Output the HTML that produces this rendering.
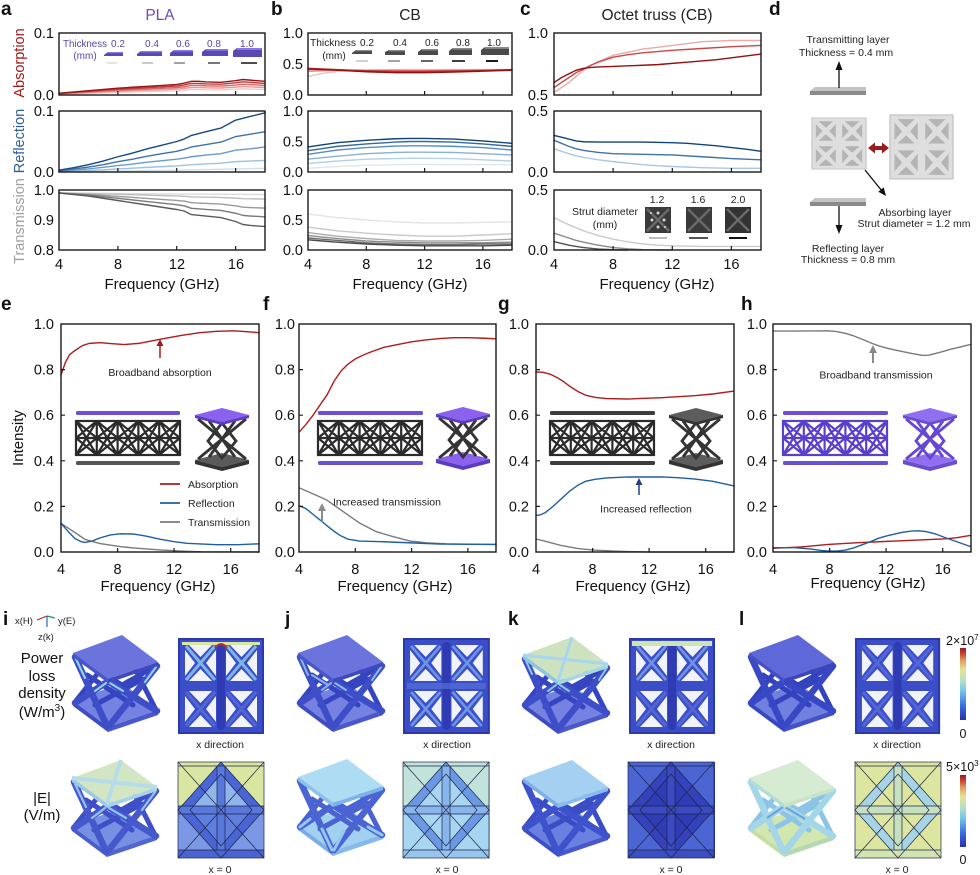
<!DOCTYPE html>
<html><head><meta charset="utf-8"><style>
body{margin:0;background:#fff}
svg{display:block;font-family:"Liberation Sans",Arial,sans-serif}
.ax{fill:none;stroke:#1a1a1a;stroke-width:1.4}
.c{fill:none;vector-effect:non-scaling-stroke;stroke-linejoin:round;stroke-linecap:round;stroke-width:1.4}
.t{font-size:14.5px;fill:#111}
.e{text-anchor:end}
.m{text-anchor:middle}
.L{font-size:19px;font-weight:bold;fill:#111}
.s{font-size:10.5px;fill:#222}
.tk{stroke:#1a1a1a;stroke-width:1.2;fill:none}
</style></head><body>
<svg width="980" height="875" viewBox="0 0 980 875">
<defs>
<linearGradient id="jet" x1="0" y1="1" x2="0" y2="0">
<stop offset="0" stop-color="#2a2eae"/><stop offset=".2" stop-color="#3a6ee0"/><stop offset=".4" stop-color="#72c6ea"/><stop offset=".55" stop-color="#b8e0c4"/><stop offset=".7" stop-color="#e4e492"/><stop offset=".82" stop-color="#e2a262"/><stop offset=".92" stop-color="#c84432"/><stop offset="1" stop-color="#981a1a"/>
</linearGradient>
<g id="lat" fill="none" stroke="currentColor" stroke-width="2.2">
<rect x="0" y="0" width="104" height="34"/>
<path d="M20.8,0V34M41.6,0V34M62.4,0V34M83.2,0V34M0,17H104
M0,0L20.8,34M20.8,0L0,34M20.8,0L41.6,34M41.6,0L20.8,34M41.6,0L62.4,34M62.4,0L41.6,34M62.4,0L83.2,34M83.2,0L62.4,34M83.2,0L104,34M104,0L83.2,34
M0,0L20.8,17M20.8,0L0,17M20.8,0L41.6,17M41.6,0L20.8,17M41.6,0L62.4,17M62.4,0L41.6,17M62.4,0L83.2,17M83.2,0L62.4,17M83.2,0L104,17M104,0L83.2,17
M0,17L20.8,34M20.8,17L0,34M20.8,17L41.6,34M41.6,17L20.8,34M41.6,17L62.4,34M62.4,17L41.6,34M62.4,17L83.2,34M83.2,17L62.4,34M83.2,17L104,34M104,17L83.2,34"/>
</g>
<g id="holes">
<polygon points="10,6 33,6 21.5,18"/><polygon points="10,42 33,42 21.5,30"/><polygon points="6,11 6,37 16,24"/><polygon points="37,11 37,37 27,24"/>
<polygon points="51,6 74,6 62.5,18"/><polygon points="51,42 74,42 62.5,30"/><polygon points="47,11 47,37 57,24"/><polygon points="78,11 78,37 68,24"/>
<polygon points="10,52 33,52 21.5,64"/><polygon points="10,88 33,88 21.5,76"/><polygon points="6,57 6,83 16,70"/><polygon points="37,57 37,83 27,70"/>
<polygon points="51,52 74,52 62.5,64"/><polygon points="51,88 74,88 62.5,76"/><polygon points="47,57 47,83 57,70"/><polygon points="78,57 78,83 68,70"/>
</g>
<g id="xs">
<rect width="84" height="94" fill="#3c4dc8"/>
<path d="M7,7L36,41M36,7L7,41M48,7L77,41M77,7L48,41M7,53L36,87M36,53L7,87M48,53L77,87M77,53L48,87" stroke="#5266d6" stroke-width="3" fill="none"/>
<use href="#holes" fill="#f1f3fb"/>
<rect x="38" y="3" width="8" height="88" rx="4" fill="#2e3bb2"/>
<rect x="0" y="0" width="84" height="94" fill="none" stroke="#2c39ad" stroke-width="2"/>
</g>
<g id="xsgray">
<rect width="84" height="94" fill="#dedede"/>
<use href="#holes" fill="#b4b4b4"/>
<rect x="0" y="0" width="84" height="94" fill="none" stroke="#c8c8c8" stroke-width="2"/>
</g>
<g id="el" fill="none" stroke="#1e2448" stroke-width="0.7">
<rect x="0" y="0" width="86" height="96"/>
<path d="M0,4H86M0,88H86M0,0L86,96M86,0L0,96M43,0L86,48L43,96L0,48ZM43,12L74,48L43,84L12,48ZM39,4V88M47,4V88M0,44H86M0,52H86"/>
</g>
</defs>

<!-- ================= Panel a ================= -->
<text x="1" y="15" class="L">a</text>
<text x="160" y="20" class="m" font-size="15.5" fill="#6a4bc4">PLA</text>
<text transform="translate(24,63) rotate(-90)" class="m" font-size="14.5" fill="#a01c1c">Absorption</text>
<text transform="translate(24,141) rotate(-90)" class="m" font-size="14.5" fill="#2c5d93">Reflection</text>
<text transform="translate(24,221) rotate(-90)" class="m" font-size="14.5" fill="#a0a0a0">Transmission</text>
<g class="t e">
<text x="54" y="38">0.1</text><text x="54" y="100">0.0</text>
<text x="54" y="116">0.1</text><text x="54" y="177">0.0</text>
<text x="54" y="195">1.0</text><text x="54" y="225">0.9</text><text x="54" y="255">0.8</text>
</g>
<g class="t m">
<text x="59" y="269">4</text><text x="118" y="269">8</text><text x="177" y="269">12</text><text x="236" y="269">16</text>
<text x="162" y="289" font-size="15">Frequency (GHz)</text>
</g>
<g transform="translate(59,95) scale(14.714,-620)">
<path class="c" stroke="#f4c6c6" d="M0,0.0012 L1,0.002 2,0.0028 3,0.0036 4,0.0044 5,0.005 6,0.0056 7,0.0062 8,0.0068 8.5,0.0076 9,0.0088 9.5,0.0088 10,0.0084 11,0.0082 12,0.0092 12.5,0.01 13,0.0096 14,0.0088"/>
<path class="c" stroke="#e79a9a" d="M0,0.0017 L1,0.0028 2,0.0039 3,0.005 4,0.006 5,0.0069 6,0.0077 7,0.0085 8,0.0094 8.5,0.0105 9,0.0121 9.5,0.0121 10,0.0116 11,0.0113 12,0.0127 12.5,0.0138 13,0.0132 14,0.0121"/>
<path class="c" stroke="#d46a6a" d="M0,0.0021 L1,0.0035 2,0.0049 3,0.0063 4,0.0077 5,0.0088 6,0.0098 7,0.0109 8,0.0119 8.5,0.0133 9,0.0154 9.5,0.0154 10,0.0147 11,0.0144 12,0.0161 12.5,0.0175 13,0.0168 14,0.0154"/>
<path class="c" stroke="#bb3b3b" d="M0,0.0026 L1,0.0043 2,0.006 3,0.0077 4,0.0094 5,0.0106 6,0.0119 7,0.0132 8,0.0145 8.5,0.0162 9,0.0187 9.5,0.0187 10,0.0179 11,0.0174 12,0.0196 12.5,0.0213 13,0.0204 14,0.0187"/>
<path class="c" stroke="#9c1515" d="M0,0.003 L1,0.005 2,0.007 3,0.009 4,0.011 5,0.0125 6,0.014 7,0.0155 8,0.017 8.5,0.019 9,0.022 9.5,0.022 10,0.021 11,0.0205 12,0.023 12.5,0.025 13,0.024 14,0.022"/>
</g>
<g transform="translate(59,172) scale(14.714,-610)">
<path class="c" stroke="#cfe0ef" d="M0,0.0002 L2,0.0007 4,0.0015 6,0.0023 8,0.003 10,0.004 12,0.005 14,0.006"/>
<path class="c" stroke="#9fc0df" d="M0,0.0006 L1,0.0014 2,0.0024 3,0.0036 4,0.005 5,0.0062 6,0.0076 7,0.0088 8,0.01 9,0.012 10,0.0132 11,0.0144 12,0.017 13,0.018 14,0.019"/>
<path class="c" stroke="#6b9bc8" d="M0,0.0013 L1,0.003 2,0.005 3,0.0076 4,0.0105 5,0.013 6,0.016 7,0.0185 8,0.021 8.5,0.0227 9,0.025 10,0.0277 11,0.03 12,0.0357 12.5,0.037 13,0.038 14,0.041"/>
<path class="c" stroke="#3d72aa" d="M0,0.002 L1,0.005 2,0.008 3,0.012 4,0.017 5,0.021 6,0.026 7,0.03 8,0.034 8.5,0.037 9,0.041 10,0.045 11,0.049 12,0.058 12.5,0.06 13,0.062 14,0.066"/>
<path class="c" stroke="#17497f" d="M0,0.003 L1,0.007 2,0.012 3,0.018 4,0.025 5,0.031 6,0.038 7,0.044 8,0.05 8.5,0.054 9,0.06 10,0.066 11,0.072 12,0.085 12.5,0.088 13,0.091 14,0.097"/>
</g>
<g transform="translate(59,250) scale(14.714,-300)">
<path class="c" stroke="#dcdcdc" d="M0,0.19 L7,0.187 14,0.185"/>
<path class="c" stroke="#bdbdbd" d="M0,0.19 L2,0.1882 4,0.1855 6,0.1828 8,0.1801 8.5,0.1792 9,0.177 10,0.1761 11,0.1752 12,0.1729 12.5,0.1711 13,0.1706 14,0.1698"/>
<path class="c" stroke="#9a9a9a" d="M0,0.19 L2,0.1855 4,0.1787 6,0.172 8,0.1652 8.5,0.163 9,0.1576 10,0.1553 11,0.1531 12,0.1472 12.5,0.1427 13,0.1414 14,0.1396"/>
<path class="c" stroke="#7a7a7a" d="M0,0.19 L2,0.1829 4,0.1722 6,0.1616 8,0.151 8.5,0.1474 9,0.1389 10,0.1353 11,0.1318 12,0.1225 12.5,0.1154 13,0.1133 14,0.1105"/>
<path class="c" stroke="#5a5a5a" d="M0,0.19 L2,0.18 4,0.165 6,0.15 8,0.135 8.5,0.13 9,0.118 10,0.113 11,0.108 12,0.095 12.5,0.085 13,0.082 14,0.078"/>
</g>
<rect x="59" y="33" width="206" height="62" class="ax"/>
<rect x="59" y="111" width="206" height="61" class="ax"/>
<rect x="59" y="190" width="206" height="60" class="ax"/>
<path class="tk" d="M117.9,95v-4M176.7,95v-4M235.6,95v-4M117.9,172v-4M176.7,172v-4M235.6,172v-4M117.9,250v-4M176.7,250v-4M235.6,250v-4"/>
<g font-size="10" fill="#5847a6">
<text x="63" y="47" textLength="44" lengthAdjust="spacingAndGlyphs">Thickness</text><text x="85" y="59" class="m">(mm)</text>
<text x="118" y="47" class="m">0.2</text><text x="152" y="47" class="m">0.4</text><text x="183" y="47" class="m">0.6</text><text x="214" y="47" class="m">0.8</text><text x="247" y="47" class="m">1.0</text>
</g>
<g fill="#5a48b4">
<polygon points="104,55 108,52 123,52 123,56 104,56"/>
<polygon points="137,54 141,51 162,51 162,56 137,56"/>
<polygon points="170,53 174,50 193,50 193,56 170,56"/>
<polygon points="202,52 206,49 228,49 228,56 202,56"/>
<polygon points="233,51 237,48 262,48 262,57 233,57"/>
</g>
<g fill="#8a78e0"><rect x="108" y="52" width="15" height="1.2"/><rect x="141" y="51" width="21" height="1.4"/><rect x="174" y="50" width="19" height="1.6"/><rect x="206" y="49" width="22" height="1.8"/><rect x="237" y="48" width="25" height="2"/></g>
<g stroke-width="1.6">
<path d="M107,63H117" stroke="#dedede"/><path d="M142,63H153" stroke="#bdbdbd"/><path d="M174,63H185" stroke="#8a8a8a"/><path d="M208,63H220" stroke="#555"/><path d="M241,63H257" stroke="#222"/>
</g>

<!-- ================= Panel b ================= -->
<text x="271" y="15" class="L">b</text>
<text x="410" y="20" class="m" font-size="15.5" fill="#222">CB</text>
<g class="t e">
<text x="303" y="38">1.0</text><text x="303" y="69">0.5</text><text x="303" y="100">0.0</text>
<text x="303" y="116">1.0</text><text x="303" y="146.5">0.5</text><text x="303" y="177">0.0</text>
<text x="303" y="195">1.0</text><text x="303" y="225">0.5</text><text x="303" y="255">0.0</text>
</g>
<g class="t m">
<text x="308" y="269">4</text><text x="366.3" y="269">8</text><text x="424.6" y="269">12</text><text x="482.9" y="269">16</text>
<text x="410" y="289" font-size="15">Frequency (GHz)</text>
</g>
<g transform="translate(308,95) scale(14.571,-62)">
<path class="c" stroke="#f2c0c0" d="M0,0.3 L1,0.35 2,0.38 3,0.395 4,0.4 6,0.41 8,0.41 10,0.41 12,0.41 14,0.41"/>
<path class="c" stroke="#e49494" d="M0,0.38 L1,0.39 2,0.4 4,0.4 6,0.4 8,0.395 10,0.395 12,0.4 14,0.4"/>
<path class="c" stroke="#d06060" d="M0,0.41 L2,0.405 4,0.395 6,0.39 8,0.39 10,0.395 12,0.4 14,0.405"/>
<path class="c" stroke="#b83434" d="M0,0.43 L2,0.41 4,0.39 6,0.375 8,0.375 10,0.385 12,0.395 14,0.41"/>
<path class="c" stroke="#961010" d="M0,0.42 L2,0.4 4,0.375 6,0.36 8,0.36 10,0.37 12,0.385 14,0.4"/>
</g>
<g transform="translate(308,172) scale(14.571,-61)">
<path class="c" stroke="#dde8f2" d="M0,0.06 L2,0.09 4,0.11 6,0.12 7,0.125 8,0.125 10,0.12 12,0.12 14,0.12"/>
<path class="c" stroke="#b4cfe6" d="M0,0.14 L1,0.16 2,0.18 4,0.21 6,0.22 7,0.225 8,0.225 10,0.22 12,0.2 14,0.18"/>
<path class="c" stroke="#8ab0d6" d="M0,0.21 L1,0.235 2,0.26 4,0.3 6,0.32 7,0.325 8,0.325 10,0.32 12,0.3 14,0.28"/>
<path class="c" stroke="#5a8cc0" d="M0,0.29 L1,0.325 2,0.36 4,0.4 6,0.425 7,0.43 8,0.43 10,0.42 12,0.4 14,0.36"/>
<path class="c" stroke="#336aa4" d="M0,0.35 L1,0.385 2,0.42 4,0.46 6,0.49 7,0.5 8,0.5 10,0.49 12,0.46 14,0.42"/>
<path class="c" stroke="#124479" d="M0,0.41 L1,0.445 2,0.48 4,0.52 6,0.545 7,0.55 8,0.55 10,0.54 12,0.51 14,0.47"/>
</g>
<g transform="translate(308,250) scale(14.571,-60)">
<path class="c" stroke="#e4e4e4" d="M0,0.6 L1,0.57 2,0.54 4,0.5 6,0.47 8,0.45 10,0.45 12,0.46 14,0.47"/>
<path class="c" stroke="#cacaca" d="M0,0.38 L1,0.35 2,0.32 4,0.28 6,0.25 8,0.23 10,0.23 12,0.25 14,0.27"/>
<path class="c" stroke="#ababab" d="M0,0.29 L1,0.26 2,0.23 4,0.19 6,0.16 8,0.15 10,0.15 12,0.16 14,0.18"/>
<path class="c" stroke="#8c8c8c" d="M0,0.24 L1,0.215 2,0.19 4,0.15 6,0.13 8,0.12 10,0.12 12,0.12 14,0.13"/>
<path class="c" stroke="#6c6c6c" d="M0,0.2 L1,0.18 2,0.16 4,0.12 6,0.1 8,0.09 10,0.09 12,0.1 14,0.1"/>
<path class="c" stroke="#4a4a4a" d="M0,0.17 L1,0.15 2,0.13 4,0.1 6,0.08 8,0.07 10,0.07 12,0.07 14,0.08"/>
</g>
<rect x="308" y="33" width="204" height="62" class="ax"/>
<rect x="308" y="111" width="204" height="61" class="ax"/>
<rect x="308" y="190" width="204" height="60" class="ax"/>
<path class="tk" d="M366.3,95v-4M424.6,95v-4M482.9,95v-4M366.3,172v-4M424.6,172v-4M482.9,172v-4M366.3,250v-4M424.6,250v-4M482.9,250v-4"/>
<g font-size="10" fill="#222">
<text x="310" y="46" textLength="46" lengthAdjust="spacingAndGlyphs">Thickness</text><text x="334" y="59" class="m">(mm)</text>
<text x="367" y="46" class="m">0.2</text><text x="400" y="46" class="m">0.4</text><text x="432" y="46" class="m">0.6</text><text x="463" y="46" class="m">0.8</text><text x="494" y="46" class="m">1.0</text>
</g>
<g fill="#4a4a4a">
<polygon points="352,53 356,50 372,50 372,54 352,54"/>
<polygon points="385,52 389,50 405,50 405,55 385,55"/>
<polygon points="418,52 422,49 438,49 438,55 418,55"/>
<polygon points="449,51 453,48 472,48 472,55 449,55"/>
<polygon points="481,50 485,47 509,47 509,55 481,55"/>
</g>
<g fill="#8a8a8a"><rect x="356" y="50" width="16" height="1.2"/><rect x="389" y="50" width="16" height="1.3"/><rect x="422" y="49" width="16" height="1.5"/><rect x="453" y="48" width="19" height="1.7"/><rect x="485" y="47" width="24" height="1.9"/></g>
<g stroke-width="1.8">
<path d="M356,61H368" stroke="#cccccc"/><path d="M388,61H400" stroke="#999"/><path d="M421,61H433" stroke="#555"/><path d="M452,61H465" stroke="#2a2a2a"/><path d="M486,61H498" stroke="#000"/>
</g>

<!-- ================= Panel c ================= -->
<text x="520" y="15" class="L">c</text>
<text x="657" y="20" class="m" font-size="15.5" fill="#222">Octet truss (CB)</text>
<g class="t e">
<text x="548" y="38">1.0</text><text x="548" y="100">0.5</text>
<text x="548" y="116">0.5</text><text x="548" y="177">0.0</text>
<text x="548" y="195">0.5</text><text x="548" y="255">0.0</text>
</g>
<g class="t m">
<text x="554" y="269">4</text><text x="613.1" y="269">8</text><text x="672.3" y="269">12</text><text x="731.4" y="269">16</text>
<text x="657" y="289" font-size="15">Frequency (GHz)</text>
</g>
<g transform="translate(554,95) scale(14.786,-124)">
<path class="c" stroke="#eba9a9" d="M0,0.02 L0.5,0.06 1,0.1 1.5,0.15 2,0.2 2.5,0.24 3,0.27 3.5,0.295 4,0.32 5,0.345 6,0.37 7,0.385 8,0.4 9,0.415 10,0.43 11,0.435 12,0.44 13,0.44 14,0.44"/>
<path class="c" stroke="#c84848" d="M0,0.06 L0.5,0.1 1,0.14 1.5,0.18 2,0.21 2.5,0.24 3,0.265 3.5,0.285 4,0.305 5,0.325 6,0.34 7,0.35 8,0.36 10,0.375 12,0.39 14,0.4"/>
<path class="c" stroke="#961010" d="M0,0.1 L0.5,0.14 1,0.17 1.5,0.2 2,0.215 2.5,0.222 3,0.226 4,0.23 5,0.235 6,0.24 7,0.245 8,0.255 9,0.265 10,0.275 11,0.285 12,0.3 13,0.315 14,0.33"/>
</g>
<g transform="translate(554,172) scale(14.786,-122)">
<path class="c" stroke="#a9c7e2" d="M0,0.19 L0.5,0.17 1,0.15 1.5,0.133 2,0.12 3,0.1 4,0.085 5,0.072 6,0.06 7,0.052 8,0.045 10,0.035 12,0.03 14,0.03"/>
<path class="c" stroke="#3d72aa" d="M0,0.26 L0.5,0.235 1,0.21 1.5,0.19 2,0.177 3,0.16 4,0.15 6,0.145 8,0.14 10,0.125 12,0.11 14,0.1"/>
<path class="c" stroke="#124479" d="M0,0.3 L0.5,0.285 1,0.27 1.5,0.255 2,0.248 3,0.245 4,0.245 6,0.245 8,0.24 9,0.235 10,0.225 11,0.215 12,0.2 13,0.187 14,0.17"/>
</g>
<g transform="translate(554,250) scale(14.786,-120)">
<path class="c" stroke="#cbcbcb" d="M0,0.27 L0.5,0.24 1,0.21 1.5,0.185 2,0.16 3,0.12 4,0.09 5,0.068 6,0.05 7,0.04 8,0.035 10,0.03 14,0.03"/>
<path class="c" stroke="#8a8a8a" d="M0,0.14 L0.5,0.12 1,0.1 1.5,0.08 2,0.065 3,0.04 4,0.02 5,0.01 6,0.004 7,0.001 8,0"/>
<path class="c" stroke="#505050" d="M0,0.07 L0.5,0.055 1,0.04 1.5,0.03 2,0.02 3,0.008 4,0.002 5,0"/>
</g>
<rect x="554" y="33" width="207" height="62" class="ax"/>
<rect x="554" y="111" width="207" height="61" class="ax"/>
<rect x="554" y="190" width="207" height="60" class="ax"/>
<path class="tk" d="M613.1,95v-4M672.3,95v-4M731.4,95v-4M613.1,172v-4M672.3,172v-4M731.4,172v-4M613.1,250v-4M672.3,250v-4M731.4,250v-4"/>
<g font-size="10.5" fill="#222" class="m">
<text x="605" y="215">Strut diameter</text><text x="605" y="228">(mm)</text>
<text x="657" y="203">1.2</text><text x="698" y="203">1.6</text><text x="738" y="203">2.0</text>
</g>
<rect x="645" y="207" width="26" height="26" fill="#3a3a3a"/>
<rect x="686" y="207" width="26" height="26" fill="#3a3a3a"/>
<rect x="725" y="207" width="26" height="26" fill="#333"/>
<path d="M647,209L669,231M669,209L647,231M688,209L710,231M710,209L688,231M727,209L749,231M749,209L727,231" stroke="#6a6a6a" stroke-width="2.5"/>
<g fill="#d8d8d8"><circle cx="652" cy="220" r="1.5"/><circle cx="664" cy="220" r="1.5"/><circle cx="658" cy="213" r="1.5"/><circle cx="658" cy="227" r="1.5"/><circle cx="651" cy="213" r="1"/><circle cx="665" cy="227" r="1"/></g>
<g stroke-width="2">
<path d="M649,238H667" stroke="#bbb"/><path d="M689,238H708" stroke="#555"/><path d="M729,238H747" stroke="#111"/>
</g>

<!-- ================= Panel d ================= -->
<text x="769" y="15" class="L">d</text>
<g class="s m">
<text x="848" y="43">Transmitting layer</text><text x="846" y="56">Thickness = 0.4 mm</text>
<text x="915" y="216">Absorbing layer</text><text x="914" y="227">Strut diameter = 1.2 mm</text>
<text x="848" y="252">Reflecting layer</text><text x="848" y="263">Thickness = 0.8 mm</text>
</g>
<polygon points="815,87 866,87 866,91 810,91" fill="#c4c4c4"/>
<rect x="810" y="91" width="56" height="4" fill="#8a8a8a"/>
<polygon points="815,198 866,198 866,202 810,202" fill="#c4c4c4"/>
<rect x="810" y="202" width="56" height="4" fill="#8a8a8a"/>
<path d="M839,88V68M839,206V227M865,170L882,191" stroke="#111" stroke-width="1.3"/>
<polygon points="835.5,70 839,61 842.5,70" fill="#111"/>
<polygon points="835.5,225 839,234 842.5,225" fill="#111"/>
<polygon points="878.3,191.8 886,196 883.7,187.4" fill="#111"/>
<g transform="translate(812,118) scale(0.643,0.543)"><use href="#xsgray"/></g>
<g transform="translate(890,115) scale(0.75,0.68)"><use href="#xsgray"/></g>
<polygon points="868,148 875,142.5 875,146 882,146 882,142.5 889,148 882,153.5 882,150 875,150 875,153.5" fill="#9b1c1c"/>

<!-- ================= Panel e ================= -->
<text x="1" y="310" class="L">e</text>
<text transform="translate(23,438) rotate(-90)" class="m" font-size="15" fill="#111">Intensity</text>
<g class="t e">
<text x="54" y="329">1.0</text><text x="54" y="374.6">0.8</text><text x="54" y="420.2">0.6</text><text x="54" y="465.8">0.4</text><text x="54" y="511.4">0.2</text><text x="54" y="557">0.0</text>
</g>
<g class="t m">
<text x="61" y="574">4</text><text x="117.6" y="574">8</text><text x="174.1" y="574">12</text><text x="230.7" y="574">16</text>
<text x="158" y="591" font-size="15">Frequency (GHz)</text>
</g>
<rect x="76" y="411" width="104" height="4" rx="1.5" fill="#6b4fd6"/>
<use href="#lat" x="76" y="421" color="#2b2b2b"/>
<rect x="76" y="461" width="104" height="4" rx="1.5" fill="#555"/>
<g transform="translate(195,408)">
<polygon points="0,52 27,45 54,52 27,59" fill="#5a5a5a"/><polygon points="0,52 27,59 54,52 54,56 27,63 0,56" fill="#333"/>
<path d="M3,11L51,51M51,11L3,51M27,15L13,33L27,50L41,33ZM14,13L40,49M40,13L14,49" stroke="#343434" stroke-width="2.8" fill="none"/>
<polygon points="0,7 27,0 54,7 27,14" fill="#8a62ee"/><polygon points="0,7 27,14 54,7 54,10 27,17 0,10" fill="#5a3cc0"/>
</g>
<g transform="translate(61,552) scale(14.143,-228)">
<path class="c" stroke="#7a7a7a" d="M0,0.126 L0.5,0.105 1,0.085 1.7,0.055 2.76,0.037 4.17,0.024 5.1,0.018 7,0.009 8.9,0.003 10,0.001 14,0"/>
<path class="c" stroke="#1f5fa0" d="M0,0.126 L0.5,0.09 1,0.058 1.4,0.046 1.7,0.042 2.2,0.048 2.76,0.062 3.5,0.075 4.17,0.08 5.1,0.079 6,0.07 7,0.056 8,0.045 8.9,0.038 11,0.032 12.5,0.032 14,0.036"/>
<path class="c" stroke="#b01c1c" d="M0,0.776 L0.3,0.83 0.6,0.865 0.9,0.88 1.5,0.905 2,0.915 2.8,0.918 3.5,0.914 4.5,0.91 5.5,0.915 7,0.933 8.5,0.95 9.8,0.962 11,0.968 12.2,0.97 13,0.967 14,0.962"/>
</g>
<path d="M160,358V344" stroke="#a01c1c" stroke-width="1.5"/><polygon points="156.5,346 160,339 163.5,346" fill="#a01c1c"/>
<text x="160" y="376" class="s m">Broadband absorption</text>
<path d="M160,484H180" stroke="#b01c1c" stroke-width="1.8"/><path d="M160,503H180" stroke="#1f5fa0" stroke-width="1.8"/><path d="M160,522H180" stroke="#7a7a7a" stroke-width="1.8"/>
<g font-size="10.5" fill="#222"><text x="188" y="488">Absorption</text><text x="188" y="507">Reflection</text><text x="188" y="526">Transmission</text></g>
<rect x="61" y="324" width="198" height="228" class="ax"/>
<path class="tk" d="M117.6,552v-4M174.1,552v-4M230.7,552v-4M61,506.4h4M61,460.8h4M61,415.2h4M61,369.6h4"/>

<!-- ================= Panel f ================= -->
<text x="263" y="310" class="L">f</text>
<g class="t e">
<text x="295" y="329">1.0</text><text x="295" y="374.6">0.8</text><text x="295" y="420.2">0.6</text><text x="295" y="465.8">0.4</text><text x="295" y="511.4">0.2</text><text x="295" y="557">0.0</text>
</g>
<g class="t m">
<text x="299" y="574">4</text><text x="355.3" y="574">8</text><text x="411.6" y="574">12</text><text x="467.9" y="574">16</text>
<text x="395" y="591" font-size="15">Frequency (GHz)</text>
</g>
<rect x="318" y="411" width="105" height="4" rx="1.5" fill="#6b4fd6"/>
<use href="#lat" x="318" y="421" color="#2b2b2b"/>
<rect x="318" y="461" width="105" height="4" rx="1.5" fill="#6b4fd6"/>
<g transform="translate(436,407)">
<polygon points="0,52 27,45 54,52 27,59" fill="#8a62ee"/><polygon points="0,52 27,59 54,52 54,56 27,63 0,56" fill="#5a3cc0"/>
<path d="M3,11L51,51M51,11L3,51M27,15L13,33L27,50L41,33ZM14,13L40,49M40,13L14,49" stroke="#343434" stroke-width="2.8" fill="none"/>
<polygon points="0,7 27,0 54,7 27,14" fill="#8a62ee"/><polygon points="0,7 27,14 54,7 54,10 27,17 0,10" fill="#5a3cc0"/>
</g>
<g transform="translate(299,552) scale(14.071,-228)">
<path class="c" stroke="#7a7a7a" d="M0,0.282 L1,0.255 1.97,0.228 3.15,0.177 4.33,0.126 5.5,0.089 6.7,0.067 7.9,0.048 9.08,0.04 10.5,0.036 12,0.034 14,0.033"/>
<path class="c" stroke="#1f5fa0" d="M0,0.203 L0.5,0.19 1,0.165 1.5,0.14 2,0.115 2.5,0.09 3,0.07 3.5,0.056 4.3,0.048 6,0.045 8,0.04 10,0.035 14,0.033"/>
<path class="c" stroke="#b01c1c" d="M0,0.525 L0.5,0.56 1,0.6 1.5,0.645 2,0.69 2.5,0.75 3,0.795 3.5,0.825 4,0.847 4.5,0.862 5,0.875 6,0.897 7,0.91 8,0.922 9,0.93 10,0.936 11,0.94 12,0.94 13,0.938 14,0.935"/>
</g>
<path d="M322,522V509" stroke="#8a8a8a" stroke-width="2"/><polygon points="318,511 322,503 326,511" fill="#8a8a8a"/>
<text x="387" y="505.5" class="s m">Increased transmission</text>
<rect x="299" y="324" width="197" height="228" class="ax"/>
<path class="tk" d="M355.3,552v-4M411.6,552v-4M467.9,552v-4M299,506.4h4M299,460.8h4M299,415.2h4M299,369.6h4"/>

<!-- ================= Panel g ================= -->
<text x="498" y="310" class="L">g</text>
<g class="t e">
<text x="529" y="329">1.0</text><text x="529" y="374.6">0.8</text><text x="529" y="420.2">0.6</text><text x="529" y="465.8">0.4</text><text x="529" y="511.4">0.2</text><text x="529" y="557">0.0</text>
</g>
<g class="t m">
<text x="536" y="574">4</text><text x="592.6" y="574">8</text><text x="649.1" y="574">12</text><text x="705.7" y="574">16</text>
<text x="633" y="591" font-size="15">Frequency (GHz)</text>
</g>
<rect x="550" y="411" width="105" height="4" rx="1.5" fill="#3c3c3c"/>
<use href="#lat" x="550" y="421" color="#2b2b2b"/>
<rect x="550" y="461" width="105" height="4" rx="1.5" fill="#3c3c3c"/>
<g transform="translate(669,408)">
<polygon points="0,52 27,45 54,52 27,59" fill="#5c5c5c"/><polygon points="0,52 27,59 54,52 54,56 27,63 0,56" fill="#333"/>
<path d="M3,11L51,51M51,11L3,51M27,15L13,33L27,50L41,33ZM14,13L40,49M40,13L14,49" stroke="#343434" stroke-width="2.8" fill="none"/>
<polygon points="0,7 27,0 54,7 27,14" fill="#5c5c5c"/><polygon points="0,7 27,14 54,7 54,10 27,17 0,10" fill="#333"/>
</g>
<g transform="translate(536,552) scale(14.143,-228)">
<path class="c" stroke="#7a7a7a" d="M0,0.057 L0.6,0.048 1.2,0.038 1.82,0.028 2.99,0.015 4.17,0.008 5.5,0.004 6.5,0.002 8,0 14,0"/>
<path class="c" stroke="#1f5fa0" d="M0,0.16 L0.3,0.163 0.64,0.172 1.2,0.2 1.82,0.235 2.4,0.268 2.99,0.294 3.5,0.31 4.17,0.319 5,0.325 6.5,0.329 8.9,0.329 10,0.326 11.25,0.32 12.5,0.31 14,0.29"/>
<path class="c" stroke="#b01c1c" d="M0,0.79 L0.5,0.788 1,0.78 1.5,0.765 2,0.745 2.5,0.722 3,0.703 3.5,0.688 4.2,0.678 5,0.673 6.5,0.671 8.9,0.677 11.3,0.686 12.5,0.693 14,0.706"/>
</g>
<path d="M639,495V483" stroke="#283c8c" stroke-width="1.5"/><polygon points="635.5,485 639,478 642.5,485" fill="#283c8c"/>
<text x="646" y="512.5" class="s m">Increased reflection</text>
<rect x="536" y="324" width="198" height="228" class="ax"/>
<path class="tk" d="M592.6,552v-4M649.1,552v-4M705.7,552v-4M536,506.4h4M536,460.8h4M536,415.2h4M536,369.6h4"/>

<!-- ================= Panel h ================= -->
<text x="741" y="310" class="L">h</text>
<g class="t e">
<text x="767" y="329">1.0</text><text x="767" y="374.6">0.8</text><text x="767" y="420.2">0.6</text><text x="767" y="465.8">0.4</text><text x="767" y="511.4">0.2</text><text x="767" y="557">0.0</text>
</g>
<g class="t m">
<text x="773" y="574">4</text><text x="829.6" y="574">8</text><text x="886.1" y="574">12</text><text x="942.7" y="574">16</text>
<text x="868" y="588" font-size="15">Frequency (GHz)</text>
</g>
<rect x="783" y="411" width="105" height="4" rx="1.5" fill="#6b4fd6"/>
<use href="#lat" x="783" y="421" color="#5a3fcc"/>
<rect x="783" y="461" width="105" height="4" rx="1.5" fill="#6b4fd6"/>
<g transform="translate(903,408)">
<polygon points="0,52 27,45 54,52 27,59" fill="#9070f0"/><polygon points="0,52 27,59 54,52 54,56 27,63 0,56" fill="#6a4cd0"/>
<path d="M3,11L51,51M51,11L3,51M27,15L13,33L27,50L41,33ZM14,13L40,49M40,13L14,49" stroke="#6448d4" stroke-width="2.8" fill="none"/>
<polygon points="0,7 27,0 54,7 27,14" fill="#9070f0"/><polygon points="0,7 27,14 54,7 54,10 27,17 0,10" fill="#6a4cd0"/>
</g>
<g transform="translate(773,552) scale(14.143,-228)">
<path class="c" stroke="#b01c1c" d="M0,0.016 L2,0.022 3.9,0.033 6,0.041 8.6,0.048 10,0.052 12.2,0.058 13,0.063 14,0.073"/>
<path class="c" stroke="#1f5fa0" d="M0,0.019 L1.53,0.019 2.71,0.013 3.5,0.006 3.9,0.004 4.5,0.004 5.09,0.008 5.7,0.018 6.27,0.031 7,0.048 7.45,0.06 8,0.07 8.63,0.079 9.2,0.087 9.8,0.092 10.3,0.093 10.76,0.09 11.5,0.079 12.17,0.063 13,0.045 14,0.023"/>
<path class="c" stroke="#7a7a7a" d="M0,0.969 L1.5,0.969 3.9,0.97 4.5,0.967 5.1,0.959 5.7,0.948 6.3,0.933 7,0.915 7.45,0.905 8,0.895 8.6,0.886 9.8,0.871 10.6,0.862 11,0.863 11.5,0.871 12,0.879 12.6,0.89 13.3,0.9 14,0.911"/>
</g>
<path d="M873,363V351" stroke="#8a8a8a" stroke-width="2"/><polygon points="869,353 873,345 877,353" fill="#8a8a8a"/>
<text x="876" y="378.5" class="s m">Broadband transmission</text>
<rect x="773" y="324" width="198" height="228" class="ax"/>
<path class="tk" d="M829.6,552v-4M886.1,552v-4M942.7,552v-4M773,506.4h4M773,460.8h4M773,415.2h4M773,369.6h4"/>

<!-- ================= Bottom i-l ================= -->
<text x="3" y="625" class="L">i</text>
<text x="285" y="625" class="L">j</text>
<text x="508" y="625" class="L">k</text>
<text x="739" y="625" class="L">l</text>
<g font-size="9.5" fill="#222"><text x="15" y="624">x(H)</text><text x="58" y="624">y(E)</text><text x="38" y="640">z(k)</text></g>
<path d="M47,616L37,620" stroke="#c02020" stroke-width="1.2"/><path d="M47,616L55,618" stroke="#209080" stroke-width="1.2"/><path d="M47,616V627" stroke="#3060c0" stroke-width="1.2"/>
<g font-size="15" fill="#111" class="m">
<text x="42" y="663">Power</text><text x="42" y="681">loss</text><text x="42" y="698">density</text><text x="42" y="717">(W/m<tspan font-size="10" dy="-6">3</tspan><tspan dy="6">)</tspan></text>
<text x="42" y="803">|E|</text><text x="42" y="820">(V/m)</text>
</g>
<g class="s m">
<text x="220" y="748">x direction</text><text x="447" y="748">x direction</text><text x="671" y="748">x direction</text><text x="897" y="748">x direction</text>
<text x="220" y="873">x = 0</text><text x="447" y="873">x = 0</text><text x="671" y="873">x = 0</text><text x="897" y="873">x = 0</text>
</g>

<g transform="translate(73,635)">
<polygon points="0,66 49,48 85,75 35,92" fill="#7682e2"/><polygon points="0,66 35,92 35,97 0,71" fill="#3e4cc4"/><polygon points="35,92 85,75 85,80 35,97" fill="#4a58cc"/>
<path d="M49,8L2,67M49,8L83,75M2,22L49,50M83,31L49,50M14,40L60,70M70,44L22,70" stroke="#3545c0" stroke-width="5" stroke-linecap="round" fill="none"/>
<path d="M2,22L34,91M34,47L2,68M36,47L84,76M84,31L36,91" stroke="#3d4ec8" stroke-width="6.5" stroke-linecap="round" fill="none"/>
<path d="M3,24L12,43M33,48L22,56M37,48L50,56M83,32L72,47M49,9L40,21M49,9L60,22" stroke="#8fd2e6" stroke-width="2.2" stroke-linecap="round" fill="none"/>
<polygon points="0,18 49,0 85,27 35,44" fill="#6a74dc"/><polygon points="0,18 35,44 35,48 0,22" fill="#4a56c8"/><polygon points="35,44 85,27 85,31 35,48" fill="#3e4abf"/>
</g>
<g transform="translate(298,635)">
<polygon points="0,66 49,48 85,75 35,92" fill="#7682e2"/><polygon points="0,66 35,92 35,97 0,71" fill="#3e4cc4"/><polygon points="35,92 85,75 85,80 35,97" fill="#4a58cc"/>
<path d="M49,8L2,67M49,8L83,75M2,22L49,50M83,31L49,50M14,40L60,70M70,44L22,70" stroke="#3545c0" stroke-width="5" stroke-linecap="round" fill="none"/>
<path d="M2,22L34,91M34,47L2,68M36,47L84,76M84,31L36,91" stroke="#3d4ec8" stroke-width="6.5" stroke-linecap="round" fill="none"/>
<path d="M3,24L10,40M33,48L24,55M37,48L48,55M83,32L74,45M14,40L30,50" stroke="#8ab8ec" stroke-width="2" stroke-linecap="round" fill="none"/>
<polygon points="0,18 49,0 85,27 35,44" fill="#6a74dc"/><polygon points="0,18 35,44 35,48 0,22" fill="#4a56c8"/><polygon points="35,44 85,27 85,31 35,48" fill="#3e4abf"/>
</g>
<g transform="translate(523,637)">
<polygon points="0,66 49,48 85,75 35,92" fill="#7682e2"/><polygon points="0,66 35,92 35,97 0,71" fill="#3e4cc4"/><polygon points="35,92 85,75 85,80 35,97" fill="#4a58cc"/>
<path d="M49,8L2,67M49,8L83,75M2,22L49,50M83,31L49,50M14,40L60,70M70,44L22,70" stroke="#3545c0" stroke-width="5" stroke-linecap="round" fill="none"/>
<path d="M2,22L34,91M34,47L2,68M36,47L84,76M84,31L36,91" stroke="#3d4ec8" stroke-width="6.5" stroke-linecap="round" fill="none"/>
<path d="M3,24L9,37M33,48L25,54M37,48L46,54M83,32L76,43" stroke="#8fc8ec" stroke-width="2" stroke-linecap="round" fill="none"/>
<polygon points="0,18 49,0 85,27 35,44" fill="#cde3c0"/><polygon points="0,18 35,44 35,48 0,22" fill="#8ec6e4"/><polygon points="35,44 85,27 85,31 35,48" fill="#a6d6e4"/>
<path d="M0,18L85,27M49,0L35,44" stroke="#a8d6ec" stroke-width="3"/>
</g>
<g transform="translate(749,635)">
<polygon points="0,66 49,48 85,75 35,92" fill="#7080e0"/><polygon points="0,66 35,92 35,97 0,71" fill="#3a48c0"/><polygon points="35,92 85,75 85,80 35,97" fill="#4452c8"/>
<path d="M49,8L2,67M49,8L83,75M2,22L49,50M83,31L49,50M14,40L60,70M70,44L22,70" stroke="#3343be" stroke-width="5" stroke-linecap="round" fill="none"/>
<path d="M2,22L34,91M34,47L2,68M36,47L84,76M84,31L36,91" stroke="#3848c4" stroke-width="6.5" stroke-linecap="round" fill="none"/>
<polygon points="0,18 49,0 85,27 35,44" fill="#5e68d8"/><polygon points="0,18 35,44 35,48 0,22" fill="#4450c4"/><polygon points="35,44 85,27 85,31 35,48" fill="#3a46bc"/>
</g>

<g transform="translate(179,639)"><use href="#xs"/>
<path d="M7,7L36,41M36,7L7,41M48,7L77,41M77,7L48,41" stroke="#8ccfe6" stroke-width="3" opacity=".75"/>
<rect x="3" y="3" width="78" height="3" fill="#d8e6a2"/>
<path d="M36,9Q42,1 48,9" stroke="#c0302a" stroke-width="2" fill="none"/>
</g>
<g transform="translate(404,639) scale(1.01,1)"><use href="#xs"/>
<path d="M7,7L36,41M36,7L7,41M48,7L77,41M77,7L48,41M7,53L36,87M36,53L7,87M48,53L77,87M77,53L48,87" stroke="#7ab6ea" stroke-width="2.5" opacity=".6"/>
<rect x="3" y="44" width="78" height="6" fill="#5a78dc" opacity=".6"/>
</g>
<g transform="translate(630,639)"><use href="#xs"/>
<path d="M7,7L36,41M36,7L7,41M48,7L77,41M77,7L48,41" stroke="#8ab8ec" stroke-width="2.5" opacity=".55"/>
<rect x="2" y="2" width="80" height="5" fill="#cfe4b0"/>
</g>
<g transform="translate(856,639) scale(0.99,1)"><use href="#xs"/></g>

<g transform="translate(72,760)">
<polygon points="0,66 49,48 85,75 35,92" fill="#7890e4"/><polygon points="0,66 35,92 35,97 0,71" fill="#4a5ccc"/><polygon points="35,92 85,75 85,80 35,97" fill="#5266d0"/>
<path d="M49,8L2,67M49,8L83,75M2,22L49,50M83,31L49,50M14,40L60,70M70,44L22,70" stroke="#3d50c8" stroke-width="5" stroke-linecap="round" fill="none"/>
<path d="M2,22L34,91M34,47L2,68M36,47L84,76M84,31L36,91" stroke="#4558cc" stroke-width="6.5" stroke-linecap="round" fill="none"/>
<path d="M3,24L14,47M33,48L20,58M37,48L54,58M83,32L70,50" stroke="#94c2ee" stroke-width="2.2" stroke-linecap="round" fill="none"/>
<polygon points="0,18 49,0 85,27 35,44" fill="#d2e6c4"/><polygon points="0,18 35,44 35,48 0,22" fill="#9ccaea"/><polygon points="35,44 85,27 85,31 35,48" fill="#a8d2e8"/>
<path d="M0,18L85,27M49,0L35,44" stroke="#b6dcea" stroke-width="4"/>
</g>
<g transform="translate(298,759)">
<polygon points="0,66 49,48 85,75 35,92" fill="#a2d0f0"/><polygon points="0,66 35,92 35,97 0,71" fill="#7aaee6"/><polygon points="35,92 85,75 85,80 35,97" fill="#86b8ea"/>
<path d="M49,8L2,67M49,8L83,75M2,22L49,50M83,31L49,50M14,40L60,70M70,44L22,70" stroke="#4a62d2" stroke-width="5" stroke-linecap="round" fill="none"/>
<path d="M2,22L34,91M34,47L2,68M36,47L84,76M84,31L36,91" stroke="#4a64d4" stroke-width="6.5" stroke-linecap="round" fill="none"/>
<path d="M2,68L12,60M34,91L24,70M84,76L70,68M36,91L46,72" stroke="#96c8ee" stroke-width="3" stroke-linecap="round" fill="none"/>
<polygon points="0,18 49,0 85,27 35,44" fill="#aedcf2"/><polygon points="0,18 35,44 35,48 0,22" fill="#8cc2ec"/><polygon points="35,44 85,27 85,31 35,48" fill="#7ab4ea"/>
</g>
<g transform="translate(523,760)">
<polygon points="0,66 49,48 85,75 35,92" fill="#6a80e0"/><polygon points="0,66 35,92 35,97 0,71" fill="#3c4ec6"/><polygon points="35,92 85,75 85,80 35,97" fill="#4658cc"/>
<path d="M49,8L2,67M49,8L83,75M2,22L49,50M83,31L49,50M14,40L60,70M70,44L22,70" stroke="#3a4cc6" stroke-width="5" stroke-linecap="round" fill="none"/>
<path d="M2,22L34,91M34,47L2,68M36,47L84,76M84,31L36,91" stroke="#3e52cc" stroke-width="6.5" stroke-linecap="round" fill="none"/>
<polygon points="0,18 49,0 85,27 35,44" fill="#a6d0f2"/><polygon points="0,18 35,44 35,48 0,22" fill="#7eb0ea"/><polygon points="35,44 85,27 85,31 35,48" fill="#88bcee"/>
</g>
<g transform="translate(749,760)">
<polygon points="0,66 49,48 85,75 35,92" fill="#d2e6b0"/><polygon points="0,66 35,92 35,97 0,71" fill="#c4dea0"/><polygon points="35,92 85,75 85,80 35,97" fill="#b6d8b0"/>
<path d="M49,8L2,67M49,8L83,75M2,22L49,50M83,31L49,50M14,40L60,70M70,44L22,70" stroke="#8cc4e6" stroke-width="5" stroke-linecap="round" fill="none"/>
<path d="M2,22L34,91M34,47L2,68M36,47L84,76M84,31L36,91" stroke="#a4d6ea" stroke-width="6.5" stroke-linecap="round" fill="none"/>
<path d="M34,47L18,58M36,47L56,59" stroke="#6aa0e0" stroke-width="2" fill="none"/>
<polygon points="0,18 49,0 85,27 35,44" fill="#d6ecd2"/><polygon points="0,18 35,44 35,48 0,22" fill="#b4dcd8"/><polygon points="35,44 85,27 85,31 35,48" fill="#c8e4c4"/>
</g>

<g transform="translate(178,762)">
<rect width="86" height="96" fill="#8fb6ea"/>
<rect y="48" width="86" height="48" fill="#5f7fde"/>
<polygon points="0,0 43,0 0,48" fill="#d9e6a2"/><polygon points="43,0 86,0 86,48" fill="#d9e6a2"/>
<polygon points="0,48 0,96 43,96" fill="#7a98e4"/><polygon points="86,48 86,96 43,96" fill="#7a98e4"/>
<path d="M43,0L86,48L43,96L0,48ZM43,12L74,48L43,84L12,48Z" fill="#4a66d4" fill-rule="evenodd"/>
<rect x="39" y="4" width="8" height="84" fill="#5878dc"/><rect x="0" y="44" width="86" height="8" fill="#5878dc"/>
<rect x="0" y="88" width="86" height="8" fill="#4a64d2"/>
<use href="#el"/>
</g>
<g transform="translate(403,762)">
<rect width="87" height="96" fill="#a8d6f2"/>
<polygon points="0,0 43,0 0,48" fill="#c2e2dc"/><polygon points="43,0 86,0 86,48" fill="#c2e2dc"/>
<path d="M43,0L86,48L43,96L0,48ZM43,12L74,48L43,84L12,48Z" fill="#6a98e2" fill-rule="evenodd"/>
<rect x="39" y="4" width="8" height="84" fill="#86b6ec"/><rect x="0" y="44" width="86" height="8" fill="#86b6ec"/>
<rect x="0" y="88" width="86" height="8" fill="#96c6ee"/>
<use href="#el"/>
</g>
<g transform="translate(628,762)">
<rect width="87" height="96" fill="#2f3cb6"/>
<polygon points="0,0 43,0 0,48" fill="#4b66d2"/><polygon points="43,0 86,0 86,48" fill="#4b66d2"/>
<polygon points="0,48 0,96 43,96" fill="#4b66d2"/><polygon points="86,48 86,96 43,96" fill="#4b66d2"/>
<path d="M43,0L86,48L43,96L0,48ZM43,12L74,48L43,84L12,48Z" fill="#3442bc" fill-rule="evenodd"/>
<rect x="39" y="4" width="8" height="84" fill="#3a4ac0"/><rect x="0" y="44" width="86" height="8" fill="#3a4ac0"/>
<rect x="0" y="88" width="86" height="8" fill="#3c4ec4"/>
<use href="#el"/>
</g>
<g transform="translate(855,762)">
<rect width="86" height="96" fill="#dde6a0"/>
<path d="M43,0L86,48L43,96L0,48ZM43,12L74,48L43,84L12,48Z" fill="#a6d4e4" fill-rule="evenodd"/>
<rect x="39" y="4" width="8" height="84" fill="#c6e0c0"/><rect x="0" y="44" width="86" height="8" fill="#c6e0c0"/>
<rect x="0" y="88" width="86" height="8" fill="#d2e4b0"/>
<use href="#el"/>
</g>

<rect x="960" y="648" width="6" height="72" fill="url(#jet)"/>
<rect x="960" y="775" width="6" height="72" fill="url(#jet)"/>
<g font-size="12.5" fill="#111">
<text x="946" y="645">2×10<tspan font-size="8" dy="-5">7</tspan></text>
<text x="963" y="738" class="m">0</text>
<text x="946" y="771">5×10<tspan font-size="8" dy="-5">3</tspan></text>
<text x="963" y="864" class="m">0</text>
</g>
</svg>
</body></html>
